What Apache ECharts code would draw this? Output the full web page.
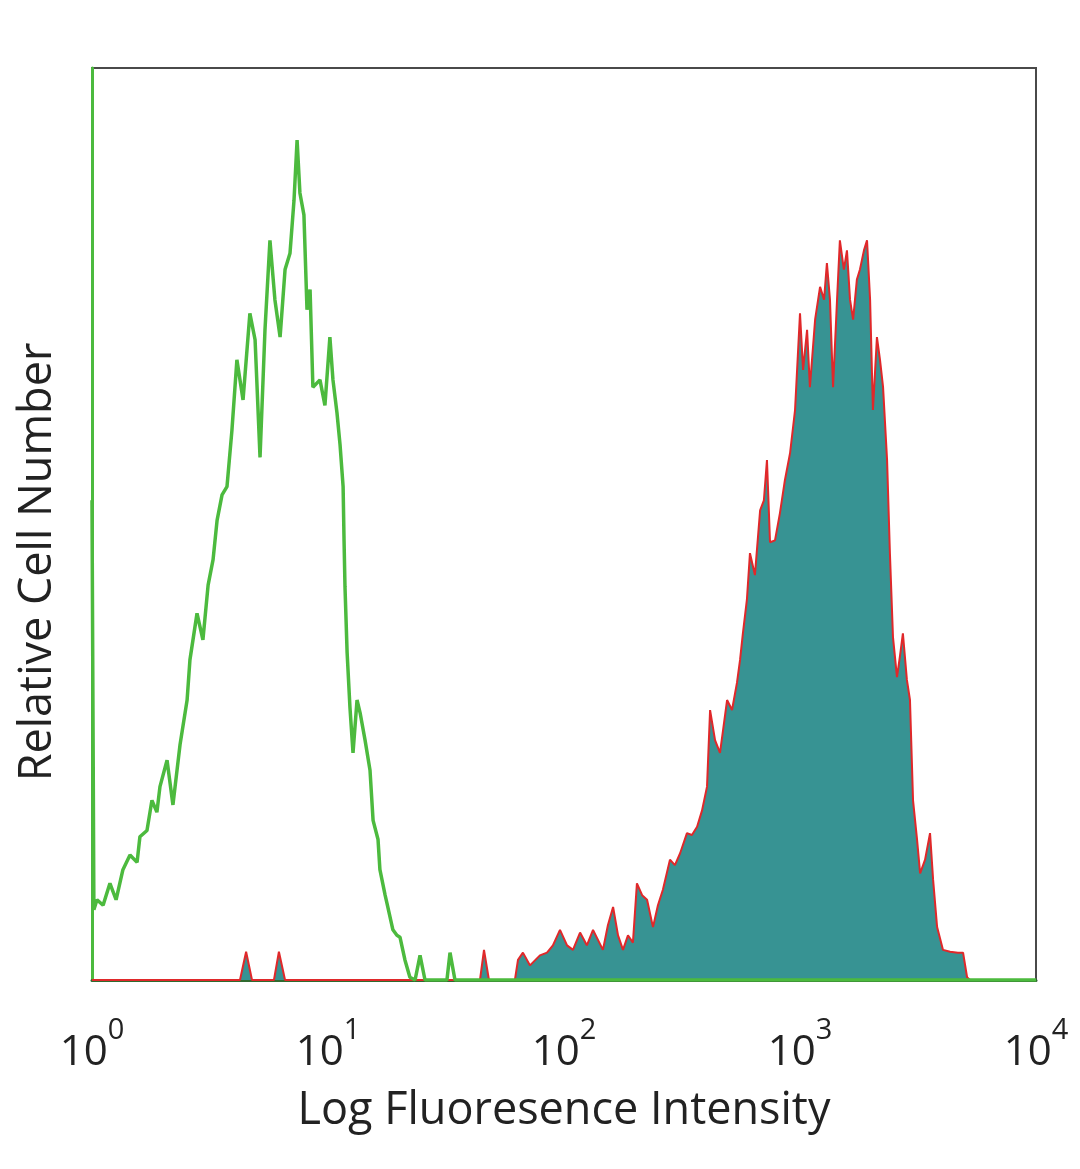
<!DOCTYPE html>
<html>
<head>
<meta charset="utf-8">
<script src="https://cdn.jsdelivr.net/npm/echarts@6/dist/echarts.min.js"></script>
<style>html,body{margin:0;padding:0;background:#fff}#c{width:1080px;height:1169px}</style>
</head>
<body>
<div id="c"></div>
<script>
// x values are log10(fluorescence intensity); y values are relative cell counts (0-100 scale)
const decadeTicks = [0, 1, 2, 3, 4];
const isotypeX = [0.000,0.008,0.021,0.047,0.076,0.102,0.131,0.161,0.191,0.203,0.233,0.254,0.275,0.288,0.318,0.343,0.373,0.403,0.415,0.445,0.470,0.492,0.513,0.530,0.551,0.572,0.593,0.614,0.640,0.669,0.691,0.712,0.733,0.754,0.775,0.797,0.818,0.839,0.856,0.869,0.881,0.898,0.911,0.924,0.936,0.966,0.987,1.008,1.021,1.038,1.051,1.064,1.068,1.072,1.081,1.093,1.106,1.123,1.136,1.157,1.178,1.191,1.212,1.220,1.242,1.250,1.275,1.292,1.305,1.326,1.347,1.369,1.390,1.411,1.504,1.517,1.538,4.000];
const isotypeY = [52.6,7.7,8.8,8.2,10.6,8.8,12.1,13.7,12.9,15.7,16.4,19.7,18.4,21.2,24.1,19.2,25.8,30.7,35.1,40.2,37.3,43.3,46.1,50.4,53.2,54.1,60.3,68.0,63.6,73.1,70.2,57.3,71.3,81.1,74.6,70.5,77.9,79.7,85.5,92.1,86.3,83.9,73.5,75.7,65.0,65.8,63.0,70.5,65.8,62.2,58.7,54.1,48.2,43.1,35.9,29.9,24.9,30.7,29.3,26.3,23.0,17.5,15.4,12.1,9.3,8.4,5.5,4.9,4.7,2.2,0.3,0,2.7,0,0,3.0,0,0];
const stainedX = [0,0.627,0.653,0.678,0.771,0.792,0.818,1.644,1.661,1.682,1.792,1.805,1.826,1.856,1.898,1.928,1.953,1.983,2.013,2.038,2.068,2.097,2.123,2.144,2.165,2.186,2.208,2.229,2.250,2.271,2.292,2.309,2.331,2.352,2.377,2.398,2.419,2.449,2.470,2.492,2.521,2.542,2.564,2.585,2.606,2.619,2.640,2.661,2.674,2.691,2.712,2.733,2.746,2.758,2.775,2.788,2.809,2.831,2.847,2.860,2.873,2.894,2.915,2.936,2.958,2.979,3.000,3.013,3.030,3.042,3.064,3.085,3.102,3.114,3.127,3.140,3.157,3.169,3.186,3.199,3.212,3.225,3.241,3.254,3.271,3.284,3.297,3.309,3.326,3.339,3.352,3.369,3.381,3.394,3.411,3.424,3.436,3.453,3.466,3.479,3.496,3.509,3.530,3.551,3.564,3.581,3.606,3.636,3.669,3.691,3.708,3.720,4.000];
const stainedY = [0,0,3.1,0,0,3.1,0,0,3.3,0,0,2.2,3.0,1.6,2.7,3.0,3.8,5.5,3.8,3.3,5.2,3.8,5.5,4.4,3.3,6.0,8.0,4.9,3.3,4.9,4.1,10.6,9.3,8.8,5.8,8.2,9.9,13.2,12.6,13.9,16.1,15.9,16.8,18.6,21.2,29.6,26.3,24.9,27.4,30.7,29.6,32.6,35.1,38.0,41.7,46.8,44.4,51.5,52.6,57.0,48.0,48.2,51.2,54.8,57.8,62.5,73.1,66.9,71.3,65.0,72.4,76.0,74.6,78.6,74.6,65.0,74.6,81.1,77.9,80.0,74.6,72.4,76.8,77.9,80.0,81.1,74.6,62.5,70.5,68.0,65.0,57.0,46.8,37.6,33.2,35.6,38.0,32.9,30.7,19.7,15.4,11.7,13.2,16.1,11.0,5.8,3.3,3.1,3.0,3.0,0.3,0,0];
const xTitle = 'Log Fluoresence Intensity';
const yTitle = 'Relative Cell Number';

const pair = (xs, ys) => xs.map((x, i) => [x, ys[i]]);
const chart = echarts.init(document.getElementById('c'));
const FONT = 'Open Sans';
chart.setOption({
  animation: false,
  backgroundColor: '#fff',
  grid: { left: 92, right: 44, top: 68, bottom: 189, show: true, borderColor: '#4a4a4a', borderWidth: 2, backgroundColor: 'transparent', containLabel: false, outerBoundsMode: 'none' },
  xAxis: {
    type: 'value', min: 0, max: 4, interval: 1,
    axisLine: { show: true, lineStyle: { color: '#2f6a2f', width: 3 } },
    axisTick: { show: false },
    splitLine: { show: false },
    axisLabel: {
      margin: 36,
      formatter: v => decadeTicks.indexOf(v) >= 0 ? '{b|10}{s|' + v + '}' : '',
      rich: {
        b: { fontFamily: FONT, fontSize: 42, color: '#222', lineHeight: 58, verticalAlign: 'bottom' },
        s: { fontFamily: FONT, fontSize: 29, color: '#222', lineHeight: 30, verticalAlign: 'top' }
      }
    },
    name: xTitle, nameLocation: 'middle', nameGap: 109,
    nameTextStyle: { fontFamily: FONT, fontSize: 45, color: '#222' }
  },
  yAxis: {
    type: 'value', min: 0, max: 100,
    axisLine: { show: true, lineStyle: { color: '#4cba3e', width: 3 } },
    axisTick: { show: false }, axisLabel: { show: false }, splitLine: { show: false },
    name: yTitle, nameLocation: 'middle', nameGap: 31, nameRotate: 90,
    nameTextStyle: { fontFamily: FONT, fontSize: 45, color: '#222', padding: [0, 76, 0, 0] }
  },
  series: [
    {
      name: 'stained', type: 'line', data: pair(stainedX, stainedY), symbol: 'none',
      lineStyle: { color: '#e0282a', width: 2 },
      areaStyle: { color: '#379393', opacity: 1 },
      z: 2
    },
    {
      name: 'isotype', type: 'line', data: pair(isotypeX, isotypeY), symbol: 'none',
      lineStyle: { color: '#4cba3e', width: 3.5 },
      z: 3
    }
  ]
});
</script>
</body>
</html>
